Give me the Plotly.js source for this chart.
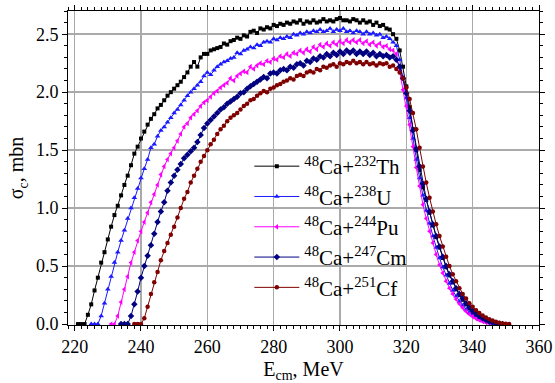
<!DOCTYPE html>
<html><head><meta charset="utf-8">
<script src="https://cdn.plot.ly/plotly-3.0.1.min.js"></script>
<style>html,body{margin:0;padding:0;background:#fff}#chart{width:555px;height:383px}</style>
</head><body><div id="chart"></div>
<script>
// Energy of the first point of each series (MeV), step 1 MeV
const startTh = 221, startU = 225, startPu = 231, startCm = 234, startCf = 238;
const seriesNames = ["<sup>48</sup>Ca+<sup>232</sup>Th","<sup>48</sup>Ca+<sup>238</sup>U","<sup>48</sup>Ca+<sup>244</sup>Pu","<sup>48</sup>Ca+<sup>247</sup>Cm","<sup>48</sup>Ca+<sup>251</sup>Cf"];
const sigTh = [0,0,0,
 0.08,0.17,0.29,0.40,0.53,0.62,0.73,0.84,0.94,1.02,1.11,1.20,1.28,1.37,1.47,
 1.53,1.60,1.66,1.72,1.77,1.81,1.86,1.89,1.93,1.97,2.00,2.03,2.06,2.09,2.13,2.17,2.22,2.26,
 2.22,2.30,2.33,2.33,2.36,2.37,2.38,2.39,2.42,2.41,2.44,2.45,2.47,2.46,2.49,2.48,2.52,2.53,2.51,2.55,2.54,2.56,2.55,2.58,
 2.57,2.59,2.58,2.60,2.59,2.61,2.60,2.62,2.59,2.61,2.60,2.62,2.60,2.61,2.63,2.61,2.62,2.61,2.63,2.64,
 2.62,2.62,2.61,2.63,2.62,2.60,2.62,2.60,2.61,2.58,2.60,2.57,2.58,2.55,2.54,2.50,
 2.46,2.36,2.22,2.05,1.87,1.68,1.50,1.33,1.18,1.07,0.96,0.85,0.75,0.66,0.57,0.49,0.42,0.36,0.30,0.25,0.21,0.17,0.135,0.105,0.08,0.06,0.043,0.03,0.02,0.012,0.006,0.002];
const sigU = [0,0,0,
 0.07,0.18,0.30,0.41,0.53,0.62,0.72,0.81,0.91,1.00,1.09,1.17,1.26,1.34,1.42,1.52,
 1.55,1.62,1.67,1.70,1.74,1.78,1.82,1.85,1.89,1.93,1.97,2.00,2.03,2.06,2.09,2.14,2.17,
 2.15,2.19,2.22,2.24,2.26,2.27,2.29,2.30,2.34,2.33,2.36,2.37,2.39,2.38,2.41,2.40,2.43,2.44,2.43,2.46,2.45,2.47,2.46,2.48,2.47,
 2.50,2.49,2.51,2.50,2.52,2.51,2.53,2.52,2.54,2.52,2.53,2.55,2.52,2.54,2.53,2.55,2.52,2.53,2.51,2.53,2.52,2.50,2.52,2.50,2.51,2.49,2.50,2.47,2.48,2.46,2.43,
 2.40,2.28,2.12,1.95,1.78,1.60,1.42,1.26,1.11,0.98,0.87,0.76,0.66,0.57,0.49,0.42,0.35,0.29,0.24,0.195,0.16,0.125,0.097,0.074,0.055,0.04,0.028,0.018,0.01,0.005,0.001];
const sigPu = [0,0,
 0.07,0.19,0.30,0.41,0.53,0.62,0.72,0.80,0.88,0.96,1.05,1.12,1.20,1.29,1.36,1.42,1.47,1.52,1.58,1.64,
 1.70,1.73,1.78,1.81,1.84,1.88,1.91,1.93,1.96,1.99,2.01,2.04,2.06,2.08,2.12,2.10,2.14,2.16,2.18,2.17,
 2.22,2.20,2.23,2.25,2.24,2.27,2.26,2.29,2.28,2.31,2.30,2.33,2.31,2.34,2.33,2.36,2.34,2.37,2.35,2.39,
 2.37,2.41,2.39,2.42,2.40,2.43,2.41,2.44,2.42,2.45,2.43,2.45,2.43,2.45,2.42,2.44,2.41,2.43,2.40,2.42,2.39,2.40,2.37,2.36,
 2.33,2.18,2.02,1.88,1.72,1.53,1.35,1.19,1.03,0.91,0.80,0.70,0.60,0.51,0.44,0.37,0.31,0.26,0.215,0.175,0.14,0.11,0.085,0.065,0.048,0.034,0.023,0.014,0.008,0.003];
const sigCm = [0,0,0,
 0.07,0.17,0.28,0.40,0.50,0.59,0.68,0.78,0.88,0.97,1.05,1.15,1.22,1.28,1.33,1.38,1.43,1.46,1.49,1.52,
 1.57,1.63,1.69,1.73,1.76,1.79,1.82,1.85,1.87,1.90,1.92,1.94,1.96,1.99,2.00,2.03,2.05,2.07,2.09,2.11,
 2.13,2.12,2.16,2.17,2.16,2.19,2.20,2.19,2.22,2.21,2.24,2.25,2.23,2.27,2.26,2.29,2.28,2.31,2.30,2.33,
 2.31,2.34,2.32,2.35,2.33,2.36,2.34,2.36,2.33,2.35,2.33,2.35,2.32,2.34,2.31,2.33,2.31,2.32,2.30,2.31,
 2.28,2.22,2.12,1.99,1.84,1.67,1.51,1.36,1.21,1.08,0.97,0.86,0.76,0.67,0.58,0.50,0.43,0.37,0.31,0.26,0.22,0.18,0.145,0.115,0.09,0.068,0.05,0.035,0.023,0.014,0.007,0.003,0];
const sigCf = [0,0,0,
 0.05,0.15,0.26,0.36,0.45,0.55,0.63,0.70,0.77,0.84,0.92,1.00,1.08,1.14,1.22,1.28,1.34,1.40,1.45,1.50,
 1.55,1.59,1.64,1.68,1.71,1.75,1.78,1.80,1.82,1.85,1.88,1.90,1.93,1.94,1.97,1.99,2.01,2.00,2.03,2.04,
 2.06,2.07,2.09,2.10,2.12,2.11,2.14,2.15,2.14,2.17,2.18,2.17,2.20,2.19,2.22,2.21,2.23,2.24,2.22,2.25,
 2.24,2.26,2.25,2.27,2.25,2.26,2.24,2.26,2.24,2.25,2.23,2.25,2.24,2.25,2.22,2.23,
 2.20,2.17,2.12,2.04,1.94,1.82,1.68,1.52,1.36,1.22,1.09,0.97,0.86,0.76,0.67,0.58,0.50,0.43,0.37,0.31,0.26,0.22,0.18,0.15,0.12,0.095,0.075,0.057,0.042,0.03,0.02,0.012,0.006,0.002,0];

const colors = ["#000000","#1a1aff","#ff00ff","#000080","#800000"];
const symbols = ["square","triangle-up","triangle-left","diamond","circle"];
const msizes = [4,5,5,5,4.5];
const starts = [startTh,startU,startPu,startCm,startCf];
const sets = [sigTh,sigU,sigPu,sigCm,sigCf];

const traces = sets.map((s,k)=>({
  type:"scatter", mode:"lines+markers", name:seriesNames[k],
  x: s.map((v,i)=>starts[k]+i), y: s,
  line:{color:colors[k], width:1},
  marker:{symbol:symbols[k], size:msizes[k], color:colors[k]}
}));

const font = "Liberation Serif";
const layout = {
  width:555, height:383,
  margin:{l:68, r:16, t:11, b:58},
  paper_bgcolor:"#fff", plot_bgcolor:"#fff",
  showlegend:true,
  font:{family:font, color:"#000"},
  legend:{x:0.385, y:0.57, xanchor:"left", yanchor:"top", bgcolor:"rgba(0,0,0,0)",
    font:{family:font, size:21, color:"#000"}, tracegroupgap:0, itemwidth:45},
  xaxis:{range:[218,360], tickvals:[220,240,260,280,300,320,340,360], ticktext:["220","240","260","280","300","320","340","360"],
    showgrid:true, gridcolor:"#aaaaaa", gridwidth:1.5, zeroline:false,
    showline:true, linecolor:"#000", linewidth:1, mirror:"ticks",
    ticks:"outside", ticklen:5, tickcolor:"#000",
    minor:{dtick:2, ticks:"outside", ticklen:3, tickcolor:"#000", showgrid:false},
    tickfont:{family:font, size:18, color:"#000"},
    title:{text:"E<sub>cm</sub>, MeV", font:{family:font, size:20, color:"#000"}, standoff:8}},
  yaxis:{range:[-0.008,2.70], tickvals:[0,0.5,1,1.5,2,2.5], ticktext:["0.0","0.5","1.0","1.5","2.0","2.5"],
    showgrid:true, gridcolor:"#aaaaaa", gridwidth:1.5, zeroline:false,
    showline:true, linecolor:"#000", linewidth:1, mirror:"ticks",
    ticks:"outside", ticklen:5, tickcolor:"#000",
    minor:{dtick:0.1, ticks:"outside", ticklen:3, tickcolor:"#000", showgrid:false},
    tickfont:{family:font, size:18, color:"#000"},
    title:{text:"σ<sub>c</sub>, mbn", font:{family:font, size:20, color:"#000"}, standoff:6}}
};
Plotly.newPlot("chart", traces, layout, {displayModeBar:false, staticPlot:true});
</script></body></html>
